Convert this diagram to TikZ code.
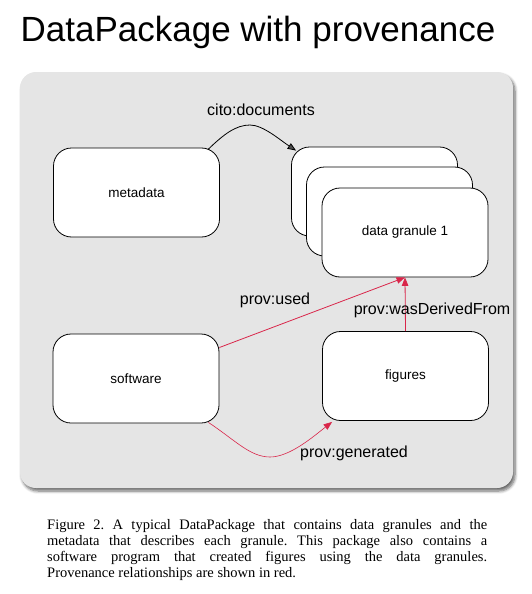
\documentclass[tikz,border=0pt]{standalone}
\usepackage{fontspec}
\setmainfont{Liberation Sans}
\newfontfamily\capfont{Liberation Serif}
\usetikzlibrary{shadows.blur,arrows.meta,calc}
\definecolor{panelgray}{HTML}{E5E5E5}
\definecolor{provred}{HTML}{D9264A}
\tikzset{
  box/.style={draw=black, fill=white, line width=0.8pt, rounded corners=18pt,
    minimum width=166pt, minimum height=89pt, inner sep=0pt,
    font=\fontsize{13.5pt}{15pt}\selectfont},
  lbl/.style={font=\fontsize{16pt}{18pt}\selectfont, inner sep=0pt},
  blackarrow/.style={line width=0.8pt, -{Triangle[length=8.5pt,width=6.5pt]}},
  redarrow/.style={draw=provred, line width=0.8pt, -{Triangle[length=8.5pt,width=6.5pt]}, color=provred},
}
\begin{document}
\frenchspacing
\begin{tikzpicture}[x=1pt,y=-1pt]
\useasboundingbox (0,0) rectangle (532,594);
% title
\node[font=\fontsize{35pt}{40pt}\selectfont, inner sep=0pt] (title) at (258,32) {DataPackage with provenance};
% panel
\path[fill=panelgray, rounded corners=16pt,
  blur shadow={shadow xshift=2pt, shadow yshift=-3pt, shadow blur steps=6, shadow blur radius=3pt, shadow opacity=60}]
  (20,72) rectangle (513,488);
% boxes
\node[box] (meta) at (136.5,192.5) {metadata};
\node[box] (g3) at (374.5,191.5) {};
\node[box] (g2) at (389.5,211.5) {};
\node[box] (g1) at (405,232.5) {data granule 1};
\node[box] (soft) at (136,378.5) {software};
\node[box] (fig) at (405.5,376) {figures};
% coordinates
\coordinate (cstart) at ($(meta.north east)+(-12,2)$);
\coordinate (cpeak) at (250,125);
\coordinate (gstart) at ($(soft.south east)+(-11,-1)$);
\coordinate (glow) at (270,457);
\coordinate (gend) at ($(fig.south west)+(10,1)$);
\coordinate (cend) at ($(g3.north west)+(5,4)$);
% connectors
\draw[blackarrow] (cstart) .. controls (224,134) and (236,125) .. (cpeak)
  .. controls (263,125) and (280,140) .. (cend);
\draw[redarrow] ($(soft.east)+(0,-31)$) -- (g1.south);
\draw[redarrow] (fig.north) -- (g1.south);
\draw[redarrow, line width=0.6pt] (gstart) .. controls (235,440) and (250,457) .. (glow)
  .. controls (290,457) and (314,436) .. (gend);
% labels
\node[lbl] (l1) at (261,110) {cito:documents};
\node[lbl] (l2) at (275,300) {prov:used};
\node[lbl] (l3) at (432,310) {prov:wasDerivedFrom};
\node[lbl] (l4) at (354,453) {prov:generated};
% caption
\node[anchor=north west, text width=440pt, align=justify, inner sep=0pt,
  font=\capfont\fontsize{14.5pt}{16pt}\selectfont] (cap) at (47,519)
  {\frenchspacing Figure 2. A typical DataPackage that contains data granules and the\linebreak
   metadata that describes each granule. This package also contains a\linebreak
   software program that created figures using the data granules.\linebreak
   Provenance relationships are shown in red.};
\end{tikzpicture}
\end{document}
